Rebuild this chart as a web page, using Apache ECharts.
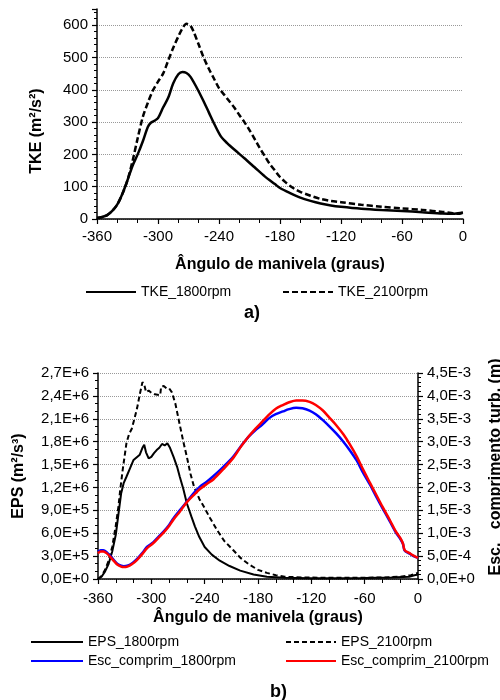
<html>
<head>
  <title>TKE / EPS</title>
  <script src="https://cdn.jsdelivr.net/npm/echarts@6/dist/echarts.min.js"></script>
<style>
  body { margin: 0; background-color: white }
</style>
  <script type="text/javascript">

    // ---- data ----
    // a) TKE (m2/s2) vs crank angle
    var tke1800Ang = [-360,-355,-350,-345,-340,-335,-330,-325,-320,-315,-310,-307,-303,-300,-295,-290,-285,-280,-276,-272,-268,-262,-256,-250,-244,-238,-232,-225,-215,-205,-195,-185,-180,-170,-160,-150,-140,-130,-120,-100,-80,-60,-40,-20,-10,-5,0];
    var tke1800    = [3,6,12,25,45,78,120,165,200,240,285,298,305,312,345,375,420,448,455,452,440,407,370,330,290,255,235,215,188,160,132,108,96,80,66,56,48,42,38,32,28,25,21,17,16,18,20];

    var tke2100Ang = [-360,-355,-350,-345,-340,-335,-330,-325,-320,-315,-310,-305,-300,-295,-290,-285,-280,-276,-272,-268,-265,-260,-255,-250,-245,-240,-235,-230,-225,-220,-215,-210,-205,-200,-195,-190,-185,-180,-175,-170,-165,-160,-150,-140,-130,-120,-100,-80,-60,-40,-20,-10,-5,0];
    var tke2100    = [3,6,12,25,45,78,120,180,250,315,360,398,425,450,490,530,565,590,604,598,580,540,499,465,435,405,385,365,345,322,300,275,248,220,195,170,150,130,115,102,92,84,72,62,56,52,44,38,33,28,22,18,16,19];

    // b) EPS (m2/s3, in 1E6) and turbulent length scale (m, in 1E-3)
    var eps1800Ang = [-360,-356,-352,-348,-344,-340,-337,-334,-331,-328,-324,-320,-316,-313,-310,-308,-306,-303,-300,-297,-294,-291,-288,-285,-282,-279,-275,-271,-268,-264,-260,-255,-251,-246,-240,-232,-223,-212,-200,-185,-170,-150,-120,-90,-60,-30,-10,-4,0];
    var eps1800    = [0,0.03,0.1,0.2,0.36,0.58,0.85,1.12,1.26,1.34,1.45,1.56,1.6,1.63,1.72,1.76,1.66,1.58,1.6,1.65,1.69,1.72,1.77,1.75,1.78,1.72,1.6,1.47,1.34,1.18,0.99,0.82,0.69,0.55,0.42,0.32,0.24,0.17,0.11,0.06,0.03,0.015,0.01,0.01,0.012,0.02,0.03,0.05,0.06];

    var eps2100Ang = [-360,-356,-352,-348,-344,-340,-337,-335,-332,-328,-325,-322,-319,-316,-313,-310,-308,-306,-303,-300,-296,-290,-289,-286,-283,-280,-277,-273,-268,-264,-260,-256,-252,-246,-241,-234,-226,-218,-208,-200,-190,-180,-170,-160,-150,-130,-100,-70,-40,-20,-8,0];
    var eps2100    = [0,0.04,0.12,0.24,0.42,0.7,0.95,1.17,1.45,1.78,1.9,1.97,2.1,2.24,2.42,2.58,2.55,2.45,2.47,2.44,2.42,2.41,2.52,2.53,2.5,2.5,2.45,2.3,2.02,1.8,1.6,1.38,1.21,1.05,0.95,0.8,0.64,0.5,0.38,0.28,0.19,0.12,0.08,0.05,0.03,0.02,0.015,0.015,0.02,0.03,0.05,0.08];

    var escAng     = [-360,-357,-354,-350,-346,-342,-338,-334,-331,-327,-322,-316,-310,-305,-298,-292,-286,-280,-275,-268,-260,-252,-245,-238,-230,-219,-208,-200,-191,-183,-177,-167,-160,-152,-145,-137,-130,-122,-115,-107,-100,-92,-84,-77,-69,-62,-54,-47,-40,-32,-25,-20,-17,-15,-10,-5,0];
    var esc1800    = [0.6,0.63,0.63,0.58,0.5,0.41,0.33,0.29,0.28,0.29,0.34,0.44,0.57,0.7,0.8,0.92,1.04,1.18,1.33,1.5,1.69,1.88,2.02,2.12,2.25,2.45,2.67,2.88,3.1,3.25,3.34,3.52,3.6,3.66,3.71,3.74,3.73,3.68,3.6,3.47,3.34,3.18,3.0,2.82,2.59,2.33,2.06,1.8,1.55,1.27,1.02,0.88,0.77,0.62,0.56,0.5,0.46];
    var esc2100    = [0.56,0.6,0.6,0.56,0.48,0.39,0.31,0.27,0.26,0.27,0.32,0.42,0.55,0.67,0.78,0.9,1.02,1.16,1.3,1.47,1.68,1.84,1.97,2.07,2.18,2.4,2.64,2.87,3.1,3.28,3.4,3.6,3.72,3.8,3.86,3.9,3.9,3.87,3.8,3.68,3.53,3.36,3.16,2.95,2.68,2.4,2.1,1.84,1.58,1.3,1.04,0.9,0.78,0.63,0.57,0.51,0.46];

    var FONT = 'Liberation Sans, Arial, sans-serif';

    function pairs(xs, ys, scale) {
      return xs.map((x, i) => [x, ys[i] * scale]);
    }

    // 2.7e6 -> "2,7E+6"
    function sci(v) {
      return v.toExponential(1).replace('.', ',').replace('e', 'E');
    }

    function init() {
      var myChart = echarts.init(document.getElementById('main'), null, {renderer: 'canvas'});

      var axisLine = { onZero: false, lineStyle: { color: '#000', width: 1.5 } };
      var tick = { show: true, length: 5, lineStyle: { color: '#000', width: 1.2 } };
      var grid = { show: true, lineStyle: { color: '#999', type: 'dotted', width: 1 } };
      var lbl = { color: '#000', fontFamily: FONT, fontSize: 15 };
      var nameStyle = { color: '#000', fontFamily: FONT, fontSize: 16, fontWeight: 'bold' };
      var legText = { color: '#000', fontFamily: FONT, fontSize: 14 };

      var option = {
        animation: false,
        backgroundColor: '#fff',
        grid: [
          { left: 97, right: 37, top: 9, height: 210, outerBoundsMode: 'none', containLabel: false },
          { left: 98, right: 82, top: 373, height: 206, outerBoundsMode: 'none', containLabel: false }
        ],
        xAxis: [
          { gridIndex: 0, type: 'value', min: -360, max: 0, interval: 60,
            axisLine: axisLine, axisTick: tick,
            minorTick: { show: true, splitNumber: 3, length: 4, lineStyle: { color: '#000' } },
            splitLine: { show: false },
            axisLabel: Object.assign({ margin: 10 }, lbl),
            name: 'Ângulo de manivela (graus)', nameLocation: 'middle', nameGap: 38,
            nameTextStyle: nameStyle },
          { gridIndex: 1, type: 'value', min: -360, max: 0, interval: 60,
            axisLine: axisLine, axisTick: tick,
            minorTick: { show: true, splitNumber: 3, length: 4, lineStyle: { color: '#000' } },
            splitLine: { show: false },
            axisLabel: Object.assign({ margin: 12 }, lbl),
            name: 'Ângulo de manivela (graus)', nameLocation: 'middle', nameGap: 31,
            nameTextStyle: nameStyle }
        ],
        yAxis: [
          { gridIndex: 0, type: 'value', position: 'left', min: 0, max: 650, interval: 100,
            axisLine: Object.assign({ show: true }, axisLine), axisTick: tick,
            minorTick: { show: true, splitNumber: 5, length: 3, lineStyle: { color: '#000' } },
            splitLine: Object.assign({ showMaxLine: false }, grid),
            axisLabel: Object.assign({ margin: 9, showMaxLabel: false,
              formatter: v => (v > 600 ? '' : v) }, lbl),
            name: 'TKE (m²/s²)', nameLocation: 'middle', nameRotate: 90, nameGap: 52,
            nameTextStyle: Object.assign({ padding: [0, 34, 0, 0] }, nameStyle) },
          { gridIndex: 1, type: 'value', position: 'left', min: 0, max: 2700000, interval: 300000,
            axisLine: Object.assign({ show: true }, axisLine), axisTick: tick,
            minorTick: { show: true, splitNumber: 3, length: 3, lineStyle: { color: '#000' } },
            splitLine: grid,
            axisLabel: Object.assign({ margin: 9, formatter: sci }, lbl),
            name: 'EPS (m²/s³)', nameLocation: 'middle', nameRotate: 90, nameGap: 71,
            nameTextStyle: nameStyle },
          { gridIndex: 1, type: 'value', position: 'right', min: 0, max: 0.0045, interval: 0.0005,
            axisLine: Object.assign({ show: true }, axisLine), axisTick: tick,
            minorTick: { show: true, splitNumber: 5, length: 3, lineStyle: { color: '#000' } },
            splitLine: { show: false },
            axisLabel: Object.assign({ margin: 9, formatter: sci }, lbl),
            name: 'Esc.   comprimento turb. (m)', nameLocation: 'middle', nameRotate: 90, nameGap: 70,
            nameTextStyle: Object.assign({ padding: [0, 0, 0, 18] }, nameStyle) }
        ],
        legend: [
          { data: ['TKE_1800rpm'], left: 80, top: 280, itemWidth: 50, itemHeight: 14,
            itemStyle: { opacity: 0 }, textStyle: legText },
          { data: ['TKE_2100rpm'], left: 277, top: 280, itemWidth: 50, itemHeight: 14,
            itemStyle: { opacity: 0 }, textStyle: legText },
          { data: ['EPS_1800rpm', 'Esc_comprim_1800rpm'], orient: 'vertical', left: 25, top: 630,
            itemGap: 5, itemWidth: 52, itemHeight: 14, itemStyle: { opacity: 0 }, textStyle: legText },
          { data: ['EPS_2100rpm', 'Esc_comprim_2100rpm'], orient: 'vertical', left: 280, top: 630,
            itemGap: 5, itemWidth: 50, itemHeight: 14, itemStyle: { opacity: 0 }, textStyle: legText }
        ],
        graphic: [
          { type: 'text', left: 244, top: 304,
            style: { text: 'a)', fontFamily: 'Liberation Sans Narrow, Liberation Sans, sans-serif',
                     fontSize: 18, fontWeight: 'bold', fill: '#000' } },
          { type: 'text', left: 270, top: 683,
            style: { text: 'b)', fontFamily: 'Liberation Sans Narrow, Liberation Sans, sans-serif',
                     fontSize: 18, fontWeight: 'bold', fill: '#000' } }
        ],
        series: [
          { name: 'TKE_1800rpm', type: 'line', xAxisIndex: 0, yAxisIndex: 0, symbol: 'none', smooth: 0.3,
            data: pairs(tke1800Ang, tke1800, 1),
            lineStyle: { color: '#000', width: 2.5 }, itemStyle: { color: '#000' } },
          { name: 'TKE_2100rpm', type: 'line', xAxisIndex: 0, yAxisIndex: 0, symbol: 'none', smooth: 0.3,
            data: pairs(tke2100Ang, tke2100, 1),
            lineStyle: { color: '#000', width: 2.5, type: [6, 3] }, itemStyle: { color: '#000' } },
          { name: 'EPS_1800rpm', type: 'line', xAxisIndex: 1, yAxisIndex: 1, symbol: 'none',
            data: pairs(eps1800Ang, eps1800, 1e6),
            lineStyle: { color: '#000', width: 2 }, itemStyle: { color: '#000' } },
          { name: 'EPS_2100rpm', type: 'line', xAxisIndex: 1, yAxisIndex: 1, symbol: 'none',
            data: pairs(eps2100Ang, eps2100, 1e6),
            lineStyle: { color: '#000', width: 2, type: [5, 3] }, itemStyle: { color: '#000' } },
          { name: 'Esc_comprim_1800rpm', type: 'line', xAxisIndex: 1, yAxisIndex: 2, symbol: 'none', smooth: 0.3,
            data: pairs(escAng, esc1800, 1e-3),
            lineStyle: { color: '#0000ff', width: 2.5 }, itemStyle: { color: '#0000ff' } },
          { name: 'Esc_comprim_2100rpm', type: 'line', xAxisIndex: 1, yAxisIndex: 2, symbol: 'none', smooth: 0.3,
            data: pairs(escAng, esc2100, 1e-3),
            lineStyle: { color: '#ff0000', width: 2.5 }, itemStyle: { color: '#ff0000' } }
        ]
      };
      myChart.setOption(option);
    }
  </script>
</head>
<body onload="init();">
  <div id="main" style="width: 500px; height: 700px;"></div>
</body>
</html>
